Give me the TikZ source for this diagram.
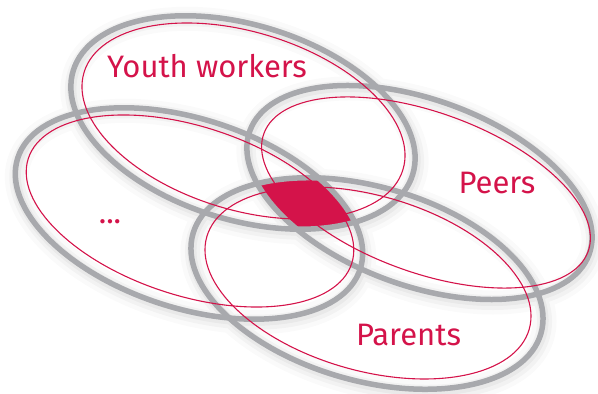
\documentclass[tikz,border=0pt]{standalone}
\usepackage{fontspec}
\setmainfont{Fira Sans}
\definecolor{crimson}{HTML}{D4134A}
\definecolor{ringgray}{HTML}{A8A9AD}
\def\ringyouth{(243,271.5) ellipse [x radius=177.5, y radius=97.5, rotate=-17]}
\def\ringpeers{(419.5,201.5) ellipse [x radius=180.5, y radius=93, rotate=-20]}
\def\ringdots{(189,180.5) ellipse [x radius=180, y radius=94.5, rotate=-18]}
\def\ringparents{(367,110.5) ellipse [x radius=181, y radius=97, rotate=-16]}
\begin{document}
\begin{tikzpicture}[x=1pt,y=1pt,
    glowa/.style={draw=black,line width=24,opacity=0.02,shift={(1.5,-3)}},
    glowb/.style={draw=black,line width=15,opacity=0.03,shift={(1.5,-3)}},
    glowc/.style={draw=black,line width=9,opacity=0.04,shift={(1,-2)}},
    outer/.style={draw=ringgray,line width=5.5},
    inner/.style={draw=crimson,line width=1.1},
    label/.style={text=crimson,font=\fontsize{31}{31}\selectfont,anchor=base,inner sep=0}]
  \useasboundingbox (0,0) rectangle (598,394);
  \path[glowa] \ringyouth \ringpeers \ringdots \ringparents;
  \path[glowb] \ringyouth \ringpeers \ringdots \ringparents;
  \path[glowc] \ringyouth \ringpeers \ringdots \ringparents;
  \begin{scope}
    \clip \ringyouth;
    \clip \ringpeers;
    \clip \ringdots;
    \fill[crimson] \ringparents;
  \end{scope}
  \path[outer] \ringyouth;
  \path[outer] \ringpeers;
  \path[outer] \ringdots;
  \path[outer] \ringparents;
  \draw[inner] (243.5,273) ellipse [x radius=166.7, y radius=88.9, rotate=-17];
  \draw[inner] (426,201.5) ellipse [x radius=172.5, y radius=80, rotate=-20];
  \draw[inner] (190,183) ellipse [x radius=170, y radius=84.5, rotate=-18];
  \draw[inner] (368,111) ellipse [x radius=167.7, y radius=87.5, rotate=-16];
  \node[label] (youth) at (207,316) {Youth workers};
  \node[label] (peers) at (497,200) {Peers};
  \node[label] (parents) at (408.5,48) {Parents};
  \node[label] (dots) at (110,170) {...};
\end{tikzpicture}
\end{document}
